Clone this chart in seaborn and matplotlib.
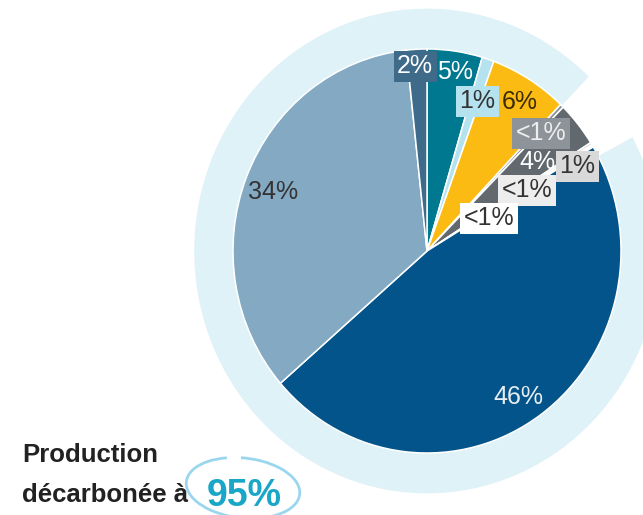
import matplotlib
matplotlib.use('Agg')
import matplotlib.pyplot as plt
import seaborn as sns
from matplotlib.patches import Arc

# shares of the production mix, clockwise from the top
shares = [4.6, 1.0, 6.5, 0.3, 3.6, 0.2, 0.1, 0.1, 47.3, 34.7, 1.7]
labels = ['5%', '1%', '6%', '<1%', '4%', '1%', '<1%', '<1%', '46%', '34%', '2%']
colors = ['#00788f', '#b4e2ee', '#fbbb12', '#8e9399', '#61686e', '#d9d9d9',
          '#ededed', '#ffffff', '#02548a', '#84a9c3', '#3f6b8a']
ring_shares = [95, 5]
headline_lines = ['Production', 'décarbonée à']
headline_value = '95%'

# label styling / layout (pixel positions in the 643x515 picture)
text_colors = ['white', '#333333', '#3a2c05', '#eeeeee', 'white', '#333333',
               '#333333', '#333333', '#e8eef3', '#333333', 'white']
box_colors = [None, '#b4e2ee', None, '#8e9399', None, '#d9d9d9',
              '#ededed', '#ffffff', None, None, '#3f6b8a']
label_pos = [(455, 72), (477, 101), (520, 102), (541, 133), (537, 162),
             (577, 166), (527, 190), (489, 218), (518, 397), (273, 192),
             (415, 66)]

W, H = 643, 515
CX, CY = 427, 251      # pie centre in pixels
RX, RY = 194, 202      # pie radius in pixels (picture is slightly stretched)


def px(x, y):
    return (x - CX) / RX, (CY - y) / RY


sns.set_theme(style='white')
plt.rcParams['font.family'] = ['Liberation Sans', 'DejaVu Sans']

fig = plt.figure(figsize=(W / 100, H / 100), dpi=100)
ax = fig.add_axes([0, 0, 1, 1])

# outer ring: decarbonised share
ax.pie(ring_shares, radius=1.2, colors=['#dff2f8', 'none'], startangle=28,
       counterclock=False, wedgeprops=dict(width=0.2, linewidth=0))

# main pie
ax.pie(shares, radius=1.0, colors=colors, startangle=90, counterclock=False,
       wedgeprops=dict(edgecolor='white', linewidth=1.1))

for lab, (x, y), tc, bc in zip(labels, label_pos, text_colors, box_colors):
    bbox = None
    if bc is not None:
        bbox = dict(boxstyle='square,pad=0.14', facecolor=bc, edgecolor='none')
    ax.text(*px(x, y), lab, ha='center', va='center', fontsize=18,
            color=tc, bbox=bbox, zorder=5)

# headline
ax.text(*px(22, 462), headline_lines[0], ha='left', va='baseline',
        fontsize=18.5, fontweight='bold', color='#222222')
ax.text(*px(22, 502), headline_lines[1], ha='left', va='baseline',
        fontsize=18.5, fontweight='bold', color='#222222')
ax.text(*px(207, 506), headline_value, ha='left', va='baseline',
        fontsize=27, fontweight='bold', color='#1aa6c6')

ex, ey = px(243, 488)
ax.add_patch(Arc((ex, ey), 114 / RX, 60 / RY, angle=-6,
                 theta1=125, theta2=460, color='#9ad7ef', linewidth=2))

ax.set_aspect('auto')
ax.set_xlim(-CX / RX, (W - CX) / RX)
ax.set_ylim((CY - H) / RY, CY / RY)
ax.axis('off')

fig.savefig('out.png', dpi=100, facecolor='white')
